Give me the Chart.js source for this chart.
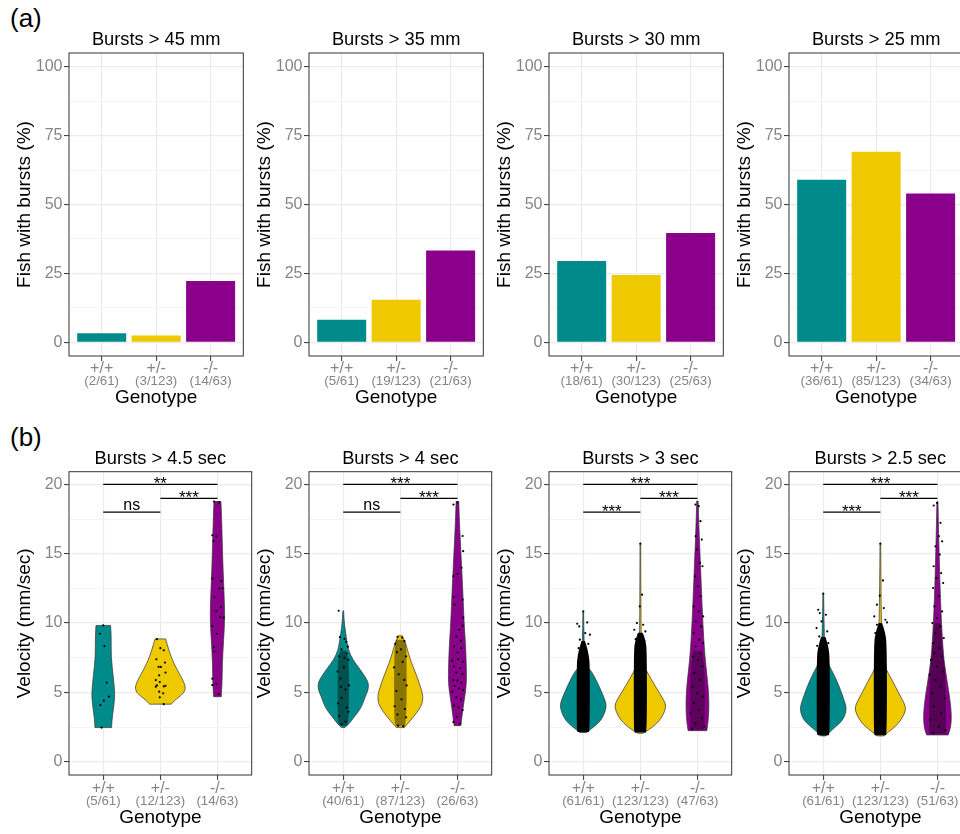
<!DOCTYPE html>
<html>
<head>
<meta charset="utf-8">
<script src="https://cdn.jsdelivr.net/npm/chart.js@4.4.0/dist/chart.umd.min.js"></script>
<style>
  body { margin: 0; width: 960px; height: 834px; overflow: hidden; background: #fff; position: relative;
         font-family: "Liberation Sans", Arial, sans-serif; }
  .tag { position: absolute; left: 10px; font-size: 26px; line-height: 26px; color: #000; }
  canvas { position: absolute; }
</style>
</head>
<body>
<div class="tag" style="top:5px">(a)</div>
<div class="tag" style="top:424px">(b)</div>
<script>
const FONT = '"Liberation Sans", Arial, sans-serif';
const GRAY = '#858585';

// categories and colours
const genotypes = ['+/+', '+/-', '-/-'];
const genoColors = ['#008B8B', '#EEC900', '#8B008B'];

// (a) bar panels: % of fish with bursts
const barTitles = ['Bursts > 45 mm', 'Bursts > 35 mm', 'Bursts > 30 mm', 'Bursts > 25 mm'];
const barPercent = [
  [3.28, 2.44, 22.22],
  [8.20, 15.45, 33.33],
  [29.51, 24.39, 39.68],
  [59.02, 69.11, 53.97]
];
const barCounts = [
  ['(2/61)', '(3/123)', '(14/63)'],
  ['(5/61)', '(19/123)', '(21/63)'],
  ['(18/61)', '(30/123)', '(25/63)'],
  ['(36/61)', '(85/123)', '(34/63)']
];
const pctTicks = [0, 25, 50, 75, 100];
const pctMinor = [12.5, 37.5, 62.5, 87.5];

// (b) violin panels: velocity of bursts
const violinTitles = ['Bursts > 4.5 sec', 'Bursts > 4 sec', 'Bursts > 3 sec', 'Bursts > 2.5 sec'];
const violinCounts = [
  ['(5/61)', '(12/123)', '(14/63)'],
  ['(40/61)', '(87/123)', '(26/63)'],
  ['(61/61)', '(123/123)', '(47/63)'],
  ['(61/61)', '(123/123)', '(51/63)']
];
const velTicks = [0, 5, 10, 15, 20];
const velMinor = [2.5, 7.5, 12.5, 17.5];

// violin outlines: [velocity, half width]
const v45Wt  = [[2.46,0.146],[3.0,0.152],[3.72,0.175],[4.57,0.2],[5.17,0.198],[6.14,0.175],[7.58,0.137],[9.03,0.14],[9.83,0.128]];
const v45Het = [[4.15,0.187],[4.57,0.292],[4.93,0.408],[5.29,0.443],[5.65,0.42],[6.14,0.362],[7.1,0.233],[8.07,0.146],[8.86,0.093]];
const v45Mut = [[4.69,0.067],[5.65,0.082],[7.1,0.085],[8.79,0.108],[10.48,0.131],[12.9,0.108],[14.83,0.09],[17.25,0.076],[18.77,0.061]];

const v4Wt  = [[2.46,0.03],[2.75,0.105],[3.24,0.192],[3.72,0.286],[4.2,0.344],[4.69,0.385],[5.17,0.437],[5.65,0.443],[6.01,0.402],[6.62,0.303],[7.34,0.169],[8.07,0.087],[9.03,0.052],[10.0,0.017],[10.89,0.006]];
const v4Het = [[2.46,0.07],[2.75,0.128],[3.24,0.233],[3.72,0.321],[4.2,0.385],[4.69,0.397],[5.17,0.373],[6.14,0.292],[7.1,0.198],[7.83,0.14],[8.55,0.093],[9.08,0.035]];
const v4Mut = [[2.6,0.058],[2.75,0.064],[3.72,0.093],[4.69,0.128],[5.65,0.16],[7.1,0.155],[8.55,0.14],[10.0,0.117],[12.4,0.093],[14.83,0.064],[17.25,0.035],[18.77,0.023]];

const v3Wt  = [[2.1,0.059],[2.29,0.117],[2.77,0.264],[3.25,0.352],[3.98,0.41],[4.46,0.381],[5.42,0.282],[6.39,0.164],[6.63,0.117],[6.87,0.07],[7.6,0.029],[8.8,0.012],[10.84,0.006]];
const v3Het = [[2.05,0.047],[2.29,0.147],[2.77,0.293],[3.25,0.387],[3.98,0.457],[4.46,0.41],[5.42,0.264],[6.39,0.129],[6.87,0.07],[7.83,0.018],[11.2,0.009],[15.73,0.006]];
const v3Mut = [[2.24,0.164],[2.53,0.176],[3.49,0.2],[4.7,0.2],[5.9,0.176],[7.6,0.129],[10.0,0.094],[12.4,0.07],[14.8,0.047],[17.2,0.023],[18.8,0.012]];

const v25Wt  = [[1.86,0.047],[2.29,0.147],[2.77,0.293],[3.25,0.375],[3.86,0.41],[4.46,0.364],[5.42,0.282],[6.39,0.176],[7.35,0.047],[8.8,0.018],[12.12,0.006]];
const v25Het = [[1.86,0.059],[2.17,0.147],[2.53,0.264],[3.01,0.364],[3.73,0.452],[4.2,0.422],[4.94,0.323],[5.9,0.205],[6.87,0.07],[8.8,0.018],[15.73,0.006]];
const v25Mut = [[1.93,0.188],[2.29,0.223],[3.01,0.246],[3.98,0.235],[5.18,0.194],[6.39,0.147],[7.6,0.106],[10.0,0.07],[12.4,0.047],[16.0,0.023],[18.75,0.009]];

// dense jitter clouds: [velocity, half width] and their darkness
const band4Wt   = [[2.6,0.07],[3.0,0.1],[7.0,0.1],[7.6,0.08],[8.0,0.05]];
const band4Het  = [[2.55,0.08],[3.0,0.11],[8.2,0.11],[8.8,0.08]];
const band3Wt   = [[2.15,0.1],[2.4,0.115],[7.0,0.115],[7.6,0.1],[8.2,0.07],[8.7,0.03]];
const band3Het  = [[2.1,0.1],[2.4,0.115],[8.0,0.115],[8.8,0.09],[9.3,0.04]];
const band3Mut  = [[2.3,0.12],[2.6,0.13],[6.5,0.13],[8.0,0.08]];
const band25Wt  = [[1.9,0.1],[2.2,0.115],[7.5,0.115],[8.3,0.09],[9.0,0.04]];
const band25Het = [[1.9,0.1],[2.2,0.115],[8.5,0.115],[9.4,0.08],[10.0,0.03]];
const band25Mut = [[2.0,0.14],[2.4,0.15],[6.5,0.14],[8.0,0.09],[10.0,0.05]];
const bandAlpha = [[0, 0, 0], [0.42, 0.42, 0], [1, 1, 0.32], [1, 1, 0.38]];

// individual jittered points: [x, velocity]
const p45Wt  = [[1.0,9.83],[0.94,9.23],[1.02,8.33],[1.06,5.7],[1.1,4.69],[1.01,4.4],[0.95,4.08],[0.97,2.46]];
const p45Het = [[1.94,8.84],[2.0,8.19],[2.06,8.04],[1.93,7.39],[2.08,7.15],[1.97,6.84],[2.01,6.84],[2.09,6.43],[1.98,6.23],[1.92,5.89],[1.99,5.75],[1.94,5.51],[1.92,5.41],[2.06,5.43],[2.09,5.48],[1.98,5.05],[2.05,4.93],[1.99,4.64],[2.06,4.15]];
const p45Mut = [[2.94,18.77],[3.03,18.7],[2.91,16.33],[2.98,16.26],[2.93,15.92],[2.91,13.21],[3.07,13.02],[3.03,12.49],[3.09,12.51],[2.95,11.86],[3.06,11.16],[2.98,10.87],[3.05,10.43],[3.11,10.39],[2.91,9.78],[2.99,9.23],[2.94,8.26],[2.95,7.95],[2.91,5.99],[2.98,5.6],[2.91,5.53],[3.02,4.88]];

const p4Wt  = [[0.92,10.89],[0.94,8.99],[1.02,8.86],[1.05,8.65],[1.08,8.3],[0.97,8.1],[1.06,7.8],[0.93,7.6],[1.02,7.5],[1.09,7.35],[0.9,6.5],[1.1,5.5],[0.91,4.2],[1.09,3.6],[0.98,2.7],[1.04,2.9],[0.95,6.0],[1.04,5.2],[0.97,4.6],[1.06,3.9],[0.93,3.3],[1.01,6.8],[0.96,5.4]];
const p4Het = [[1.95,9.0],[2.03,8.95],[2.07,8.7],[1.91,8.5],[2.1,7.6],[1.89,6.8],[2.11,5.5],[1.9,4.0],[2.1,3.2],[1.96,2.6],[2.05,2.55],[1.94,7.9],[2.04,7.2],[1.97,6.3],[2.07,5.9],[1.93,5.1],[2.02,4.5],[2.08,3.8],[1.95,3.4],[2.01,8.1]];
const p4Mut = [[2.93,18.55],[3.0,18.7],[3.09,16.28],[3.1,15.19],[3.07,13.99],[2.93,13.38],[3.0,13.55],[2.94,11.88],[3.09,11.69],[2.95,11.33],[3.1,10.39],[3.09,9.81],[3.03,9.52],[2.98,9.03],[3.06,8.72],[2.94,8.31],[3.07,8.19],[3.0,7.87],[2.91,7.29],[3.01,7.39],[3.1,7.22],[2.94,6.86],[3.05,6.74],[2.98,6.43],[3.09,6.33],[2.93,5.89],[3.0,5.85],[3.07,5.7],[2.95,5.46],[3.03,5.29],[2.91,5.05],[3.1,5.17],[2.98,4.64],[3.06,4.49],[2.94,4.06],[3.02,3.91],[3.09,3.72],[2.99,3.24],[2.93,2.87],[3.05,2.75]];

const p3Wt  = [[1.0,10.84],[0.894,9.95],[0.93,9.76],[1.07,10.05],[1.035,9.28],[1.117,9.16],[0.94,8.8],[1.088,8.5],[0.918,8.19],[1.047,8.07],[0.97,7.83]];
const p3Het = [[2.0,15.73],[2.03,12.05],[1.99,11.2],[1.94,10.0],[2.05,9.88],[1.894,9.52],[2.088,9.4],[1.97,9.16],[1.918,8.84],[2.07,8.7]];
const p3Mut = [[2.965,18.55],[3.023,18.43],[3.053,17.35],[2.97,16.27],[3.076,16.02],[2.994,15.3],[3.041,14.34],[2.959,13.37],[3.088,14.1],[3.006,12.65],[3.053,11.93],[2.935,11.2],[3.023,10.84],[3.1,10.48],[2.97,10.12],[3.065,9.76],[2.935,9.28],[3.03,8.8],[3.1,8.55],[2.965,8.31],[3.053,7.83],[2.924,7.59],[3.006,7.35],[3.088,6.87],[2.947,6.39],[3.041,5.9],[2.912,5.42],[2.994,4.94],[3.1,4.7],[2.935,4.22],[3.023,3.73],[2.877,3.49],[3.076,3.13],[2.965,2.77],[3.123,2.53],[2.906,2.34]];

const p25Wt  = [[1.0,12.12],[0.912,10.96],[0.94,10.72],[1.047,10.6],[0.97,10.12],[0.883,9.64],[1.07,9.4],[0.93,9.04],[1.03,8.84],[1.088,8.55],[0.894,8.36],[1.012,8.19]];
const p25Het = [[2.0,15.73],[2.047,13.08],[1.99,11.98],[1.94,11.33],[2.06,11.08],[1.894,10.48],[2.088,10.24],[1.94,9.88],[2.03,9.64],[2.117,10.05],[1.912,9.28],[2.07,9.04],[1.965,8.8]];
const p25Mut = [[2.935,18.48],[2.994,18.67],[3.053,17.23],[3.023,16.27],[3.082,15.9],[2.965,15.54],[3.041,14.94],[2.935,14.1],[3.065,13.61],[2.982,13.25],[3.1,12.89],[2.924,12.53],[3.023,11.93],[2.947,11.2],[3.082,10.84],[2.994,10.36],[2.912,10.0],[3.053,9.76],[2.965,9.28],[3.111,8.92],[2.924,8.55],[3.03,8.19],[2.947,7.83],[3.076,7.59],[2.889,7.35],[2.994,6.87],[3.1,6.51],[2.865,6.27],[2.965,5.9],[3.053,5.42],[2.906,4.94],[3.123,4.58],[2.935,3.98],[3.065,3.49],[2.877,3.01],[3.023,2.53],[3.141,2.29],[2.924,2.05]];

// significance brackets: [from, to, height, label]
const sig45 = [[1,3,20,'**'],[2,3,19,'***'],[1,2,18,'ns']];
const sig4  = [[1,3,20,'***'],[2,3,19,'***'],[1,2,18,'ns']];
const sig3  = [[1,3,20,'***'],[2,3,19,'***'],[1,2,18,'***']];
const sig25 = [[1,3,20,'***'],[2,3,19,'***'],[1,2,18,'***']];

const violinShapes = [[v45Wt, v45Het, v45Mut], [v4Wt, v4Het, v4Mut], [v3Wt, v3Het, v3Mut], [v25Wt, v25Het, v25Mut]];
const violinBands = [[null, null, null], [band4Wt, band4Het, null], [band3Wt, band3Het, band3Mut], [band25Wt, band25Het, band25Mut]];
const violinPoints = [[p45Wt, p45Het, p45Mut], [p4Wt, p4Het, p4Mut], [p3Wt, p3Het, p3Mut], [p25Wt, p25Het, p25Mut]];
const violinSig = [sig45, sig4, sig3, sig25];

// row geometry
const rowA = { top: 0, chartTop: 53, chartBottom: 356, titleMid: 40.3, w: 250, right: 243.3, countsOff: 25, tickPad: 0 };
const rowB = { top: 420, chartTop: 51.7, chartBottom: 355, titleMid: 38.6, w: 260, right: 251.7, countsOff: 26.5, tickPad: 1 };
const CANVAS_H = 420;
const AXIS_TITLE = 19;

function smoothSide(ctx, pts) {
  ctx.lineTo(pts[0][0], pts[0][1]);
  for (let i = 1; i < pts.length - 1; i++) {
    const mx = (pts[i][0] + pts[i + 1][0]) / 2;
    const my = (pts[i][1] + pts[i + 1][1]) / 2;
    ctx.quadraticCurveTo(pts[i][0], pts[i][1], mx, my);
  }
  const last = pts[pts.length - 1];
  ctx.lineTo(last[0], last[1]);
}

function shapePath(ctx, xs, ys, cx, shape) {
  const right = shape.map(([y, w]) => [xs.getPixelForValue(cx + w), ys.getPixelForValue(y)]);
  const left = shape.map(([y, w]) => [xs.getPixelForValue(cx - w), ys.getPixelForValue(y)]).reverse();
  ctx.beginPath();
  ctx.moveTo(left[left.length - 1][0], left[left.length - 1][1]);
  smoothSide(ctx, right);
  smoothSide(ctx, left);
  ctx.closePath();
}

function makePanel(row, col, cfg) {
  const cv = document.createElement('canvas');
  cv.width = row.w;
  cv.height = CANVAS_H;
  cv.style.left = (240 * col) + 'px';
  cv.style.top = row.top + 'px';
  document.body.appendChild(cv);

  const isMajor = v => cfg.yTicks.includes(v);
  const allY = cfg.yTicks.concat(cfg.yMinor).sort((a, b) => a - b);

  const framePlugin = {
    id: 'frame',
    afterDatasetsDraw(chart) {
      const { ctx, chartArea: a } = chart;
      ctx.save();
      ctx.strokeStyle = '#333';
      ctx.lineWidth = 1;
      ctx.strokeRect(a.left, a.top, a.right - a.left, a.bottom - a.top);
      ctx.restore();
    },
    afterDraw(chart) {
      const { ctx, chartArea: a } = chart;
      const xs = chart.scales.x;
      ctx.save();
      ctx.fillStyle = GRAY;
      ctx.font = '13.3px ' + FONT;
      ctx.textAlign = 'center';
      ctx.textBaseline = 'middle';
      cfg.counts.forEach((c, i) => ctx.fillText(c, xs.getPixelForValue(i + 1), a.bottom + row.countsOff));
      ctx.restore();
    }
  };

  const plugins = [framePlugin];
  if (cfg.extraPlugin) plugins.push(cfg.extraPlugin);

  new Chart(cv, {
    type: cfg.type,
    data: { datasets: cfg.datasets },
    options: {
      responsive: false,
      animation: false,
      devicePixelRatio: 1,
      layout: { padding: { left: 0, right: row.w - row.right, top: 0, bottom: 0 } },
      plugins: {
        legend: { display: false },
        tooltip: { enabled: false },
        title: {
          display: true, text: cfg.title, fullSize: false, color: '#000',
          font: { size: 18.3, family: FONT, weight: 'normal', lineHeight: 1.2 },
          padding: { top: row.titleMid - 10.98, bottom: row.chartTop - (row.titleMid - 10.98) - 21.96 }
        }
      },
      scales: {
        x: {
          type: 'linear', min: 0.4, max: 3.6, offset: false,
          afterBuildTicks: s => { s.ticks = [1, 2, 3].map(v => ({ value: v })); },
          afterFit: s => { s.height = CANVAS_H - row.chartBottom; },
          ticks: {
            callback: v => genotypes[v - 1], color: GRAY, autoSkip: false, maxRotation: 0, minRotation: 0,
            font: { size: 16, family: FONT, lineHeight: 1 }, padding: row.tickPad
          },
          grid: { offset: false, color: '#EBEBEB', lineWidth: 1.2, tickLength: 5, tickColor: '#333', tickWidth: 1 },
          border: { display: false },
          title: {
            display: true, text: 'Genotype', color: '#000',
            font: { size: AXIS_TITLE, family: FONT, lineHeight: 1.2 }, padding: { top: 0, bottom: 22 - AXIS_TITLE * 0.6 }
          }
        },
        y: {
          min: cfg.yMin, max: cfg.yMax,
          afterBuildTicks: s => { s.ticks = allY.map(v => ({ value: v })); },
          afterFit: s => { s.width = 69; },
          ticks: {
            callback: v => isMajor(v) ? String(v) : '', color: GRAY, autoSkip: false,
            font: { size: 16, family: FONT }, padding: 1.5
          },
          grid: {
            color: c => (c.tick && isMajor(c.tick.value)) ? '#EBEBEB' : '#F3F3F3',
            lineWidth: c => (c.tick && isMajor(c.tick.value)) ? 1.2 : 0.9,
            tickLength: 5, tickWidth: 1,
            tickColor: c => (c.tick && isMajor(c.tick.value)) ? '#333' : 'rgba(0,0,0,0)'
          },
          border: { display: false },
          title: {
            display: true, text: cfg.yTitle, color: '#000',
            font: { size: AXIS_TITLE, family: FONT, lineHeight: 1.2 }, padding: { top: 24.8 - AXIS_TITLE * 0.6, bottom: 0 }
          }
        }
      }
    },
    plugins: plugins
  });
}

// (a) bar charts
barTitles.forEach((title, i) => {
  makePanel(rowA, i, {
    type: 'bar',
    title: title,
    yTitle: 'Fish with bursts (%)',
    yMin: -5, yMax: 105,
    yTicks: pctTicks, yMinor: pctMinor,
    counts: barCounts[i],
    datasets: [{
      data: barPercent[i].map((v, j) => ({ x: j + 1, y: v })),
      backgroundColor: genoColors,
      borderWidth: 0,
      categoryPercentage: 0.9,
      barPercentage: 1
    }]
  });
});

// (b) violin charts
violinTitles.forEach((title, i) => {
  const datasets = [];
  violinPoints[i].forEach(pts => {
    datasets.push({
      type: 'scatter',
      data: pts.map(([x, y]) => ({ x: x, y: y })),
      pointRadius: 1.1, pointBackgroundColor: '#000', pointBorderWidth: 0, showLine: false
    });
  });
  violinSig[i].forEach(([a, b, h]) => {
    datasets.push({
      type: 'scatter',
      data: [{ x: a, y: h }, { x: b, y: h }],
      showLine: true, borderColor: '#000', borderWidth: 1.2, pointRadius: 0, clip: false
    });
  });

  const violinPlugin = {
    id: 'violins',
    beforeDatasetsDraw(chart) {
      const { ctx, chartArea: a } = chart;
      const xs = chart.scales.x, ys = chart.scales.y;
      ctx.save();
      ctx.beginPath();
      ctx.rect(a.left, a.top, a.right - a.left, a.bottom - a.top);
      ctx.clip();
      violinShapes[i].forEach((shape, g) => {
        shapePath(ctx, xs, ys, g + 1, shape);
        ctx.fillStyle = genoColors[g];
        ctx.fill();
        ctx.strokeStyle = '#333';
        ctx.lineWidth = 0.7;
        ctx.stroke();
      });
      violinBands[i].forEach((band, g) => {
        if (!band) return;
        shapePath(ctx, xs, ys, g + 1, band);
        ctx.fillStyle = 'rgba(0,0,0,' + bandAlpha[i][g] + ')';
        ctx.fill();
      });
      ctx.restore();
    },
    afterDatasetsDraw(chart) {
      const { ctx } = chart;
      const xs = chart.scales.x, ys = chart.scales.y;
      ctx.save();
      ctx.fillStyle = '#000';
      ctx.textAlign = 'center';
      ctx.textBaseline = 'alphabetic';
      violinSig[i].forEach(([a, b, h, label]) => {
        const x = xs.getPixelForValue((a + b) / 2);
        const y = ys.getPixelForValue(h);
        if (label.includes('*')) {
          ctx.font = '17px ' + FONT;
          ctx.fillText(label, x, y + 5);
        } else {
          ctx.font = '16px ' + FONT;
          ctx.fillText(label, x, y - 2.6);
        }
      });
      ctx.restore();
    }
  };

  makePanel(rowB, i, {
    type: 'scatter',
    title: title,
    yTitle: 'Velocity (mm/sec)',
    yMin: -0.96, yMax: 20.92,
    yTicks: velTicks, yMinor: velMinor,
    counts: violinCounts[i],
    datasets: datasets,
    extraPlugin: violinPlugin
  });
});
</script>
</body>
</html>
